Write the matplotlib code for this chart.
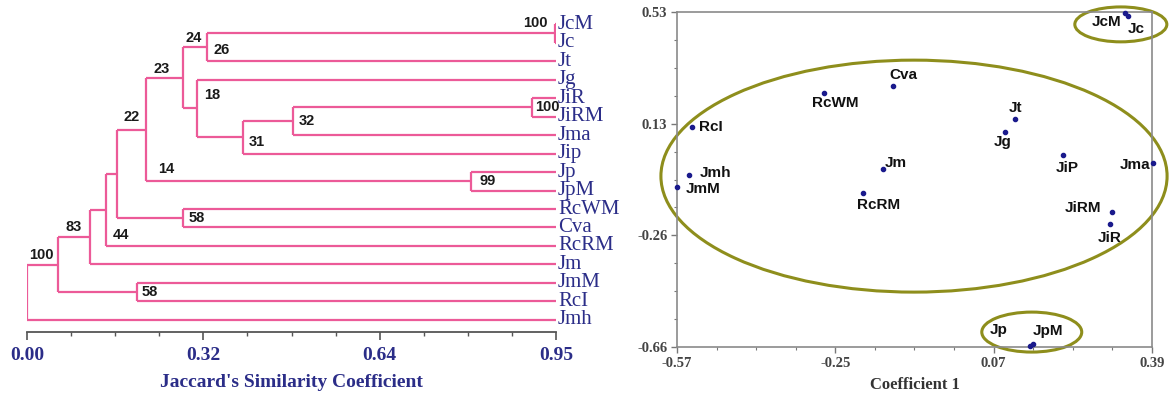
import numpy as np
import matplotlib
matplotlib.use("Agg")
import matplotlib.pyplot as plt
from matplotlib.patches import Ellipse

# ---------------- Dendrogram data ----------------
leaves = ["JcM", "Jc", "Jt", "Jg", "JiR", "JiRM", "Jma", "Jip", "Jp", "JpM",
          "RcWM", "Cva", "RcRM", "Jm", "JmM", "RcI", "Jmh"]
merge_names = ["A", "B", "C", "D", "E", "F", "G", "H", "I", "J", "K", "L", "M", "N", "O", "R"]
merge_left = ["JcM", "A", "JiR", "C", "D", "Jg", "B", "Jp", "G", "RcWM", "I", "K", "L", "JmM", "M", "O"]
merge_right = ["Jc", "Jt", "JiRM", "Jma", "Jip", "E", "F", "JpM", "H", "Cva", "J", "RcRM", "Jm", "RcI", "N", "Jmh"]
merge_height = [0.948, 0.323, 0.907, 0.478, 0.388, 0.305, 0.280, 0.797, 0.214,
                0.280, 0.162, 0.142, 0.113, 0.197, 0.056, 0.0]

boot_values = ["100", "26", "24", "23", "22", "14", "18", "32", "31", "100",
               "99", "58", "44", "83", "58", "100"]
boot_anchor = ["A", "B", "B*", "G*", "I*", "H*", "F", "D", "E", "C",
               "H", "J", "RcRM*", "M*", "N", "O*"]

dend_ticks = ["0.00", "0.32", "0.64", "0.95"]

# ---------------- PCoA data ----------------
pts_names = ["JcM", "Jc", "Cva", "RcWM", "RcI", "Jmh", "JmM", "Jm", "RcRM", "Jt",
             "Jg", "JiP", "Jma", "JiRM", "JiR", "Jp", "JpM"]
pts_x = [0.335, 0.341, -0.133, -0.273, -0.540, -0.546, -0.570, -0.154, -0.194, 0.113,
         0.093, 0.210, 0.392, 0.309, 0.305, 0.143, 0.150]
pts_y = [0.526, 0.516, 0.267, 0.242, 0.122, -0.049, -0.092, -0.028, -0.113, 0.150,
         0.104, 0.022, -0.006, -0.180, -0.223, -0.658, -0.650]
pc_xticks = ["-0.57", "-0.25", "0.07", "0.39"]
pc_yticks = ["0.53", "0.13", "-0.26", "-0.66"]

# groups (ellipses): center x, center y, width, height
grp_cx = [-0.091, 0.327, 0.147]
grp_cy = [-0.053, 0.486, -0.607]
grp_w = [1.023, 0.186, 0.202]
grp_h = [0.824, 0.124, 0.142]

# ---------------- Styling ----------------
PINK = "#EC5A98"
NAVY = "#2B2D88"
OLIVE = "#8E8E1C"
PX = 0.72  # points per pixel at dpi 100

fig = plt.figure(figsize=(11.74, 3.99), dpi=100)

# ---------- Left: dendrogram ----------
ax1 = fig.add_axes([27 / 1174, 1 - 332 / 399, 529 / 1174, 332 / 399])
ax1.set_xlim(0, 0.95)
ax1.set_ylim(16.65, -1.3)

pos = {}
for i, nm in enumerate(leaves):
    pos[nm] = (0.95, float(i))
parent_x = {}
for nm, l, r, h in zip(merge_names, merge_left, merge_right, merge_height):
    yl = pos[l][1]
    yr = pos[r][1]
    ax1.plot([h, h], [yl, yr], color=PINK, lw=1.6, solid_capstyle="butt")
    for c in (l, r):
        ax1.plot([h, pos[c][0]], [pos[c][1], pos[c][1]], color=PINK, lw=1.6,
                 solid_capstyle="butt")
        parent_x[c] = h
    pos[nm] = (h, (yl + yr) / 2)

for i, nm in enumerate(leaves):
    ax1.annotate(nm, (0.95, i), xytext=(2 * PX, 0), textcoords="offset points",
                 ha="left", va="center", fontsize=15, color=NAVY,
                 family="Liberation Serif", annotation_clip=False)

boot_off = {
    "A": (-20, 10), "B": (15, -3), "B*": (11, 9), "G*": (15, 9), "I*": (14, 13),
    "H*": (20, 12), "F": (15, 13), "D": (14, 0), "E": (14, -5), "C": (15, 0),
    "H": (17, 0), "J": (14, 0), "RcRM*": (15, 11), "M*": (15, 10), "N": (13, 0),
    "O*": (14, 10),
}
for txt, anc in zip(boot_values, boot_anchor):
    if anc.endswith("*"):
        nm = anc[:-1]
        ax_, ay_ = parent_x[nm], pos[nm][1]
    else:
        ax_, ay_ = pos[anc]
    dx, dy = boot_off[anc]
    ax1.annotate(txt, (ax_, ay_), xytext=(dx * PX, dy * PX), textcoords="offset points",
                 ha="center", va="center", fontsize=10.5, fontweight="bold",
                 color="#1a1a1a", family="Liberation Sans", annotation_clip=False)

for s in ["top", "right", "left"]:
    ax1.spines[s].set_visible(False)
ax1.spines["bottom"].set_color("#555555")
ax1.spines["bottom"].set_linewidth(1.3)
ax1.set_yticks([])
major = np.linspace(0, 0.95, 4)
ax1.set_xticks(major)
ax1.set_xticklabels(dend_ticks)
ax1.set_xticks(np.linspace(0, 0.95, 13), minor=True)
ax1.tick_params(axis="x", which="major", direction="out", length=6, width=1.2,
                color="#555555", pad=5)
ax1.tick_params(axis="x", which="minor", direction="out", length=3, width=1.0,
                color="#555555")
for lab in ax1.get_xticklabels():
    lab.set_fontsize(14)
    lab.set_fontweight("bold")
    lab.set_color(NAVY)
    lab.set_family("Liberation Serif")
ax1.set_xlabel("Jaccard's Similarity Coefficient", fontsize=14, fontweight="bold",
               color=NAVY, family="Liberation Serif", labelpad=7)

# ---------- Right: PCoA scatter ----------
ax2 = fig.add_axes([677 / 1174, 1 - 347 / 399, 475 / 1174, 335 / 399])
ax2.set_xlim(-0.57, 0.39)
ax2.set_ylim(-0.66, 0.53)
ax2.scatter(pts_x, pts_y, s=9, color="#1a1a8c", zorder=3, clip_on=False)

lab_off = {
    "JcM": (-3, -9, "right"), "Jc": (0, -13, "left"), "Cva": (10, 11, "center"),
    "RcWM": (11, -10, "center"), "RcI": (7, 0, "left"), "Jmh": (11, 2, "left"),
    "JmM": (9, -2, "left"), "Jm": (2, 6, "left"), "RcRM": (16, -12, "center"),
    "Jt": (1, 11, "center"), "Jg": (-2, -10, "center"), "JiP": (4, -13, "center"),
    "Jma": (-3, -2, "right"), "JiRM": (-11, 4, "right"), "JiR": (0, -14, "center"),
    "Jp": (-31, 16, "center"), "JpM": (15, 13, "center"),
}
for nm, x, y in zip(pts_names, pts_x, pts_y):
    dx, dy, ha = lab_off[nm]
    ax2.annotate(nm, (x, y), xytext=(dx * PX, dy * PX), textcoords="offset points",
                 ha=ha, va="center", fontsize=11, fontweight="bold", color="#111111",
                 family="Liberation Sans", annotation_clip=False)

for cx, cy, w, h in zip(grp_cx, grp_cy, grp_w, grp_h):
    e = Ellipse((cx, cy), w, h, fill=False, edgecolor=OLIVE, lw=2.2, clip_on=False,
                zorder=2)
    ax2.add_patch(e)

for s in ax2.spines.values():
    s.set_color("#8a8a8a")
    s.set_linewidth(1.2)
ax2.set_xticks(np.linspace(-0.57, 0.39, 4))
ax2.set_xticklabels(pc_xticks)
ax2.set_yticks(np.linspace(-0.66, 0.53, 4))
ax2.set_yticklabels(pc_yticks[::-1])
ax2.set_xticks(np.linspace(-0.57, 0.39, 13), minor=True)
ax2.set_yticks(np.linspace(-0.66, 0.53, 13), minor=True)
ax2.tick_params(which="major", direction="out", length=4, width=1.0, color="#777777",
                pad=3)
ax2.tick_params(which="minor", direction="out", length=2.5, width=0.8, color="#777777")
for lab in ax2.get_xticklabels() + ax2.get_yticklabels():
    lab.set_fontsize(10.5)
    lab.set_fontweight("bold")
    lab.set_color("#444444")
    lab.set_family("Liberation Serif")
ax2.set_xlabel("Coefficient 1", fontsize=12, fontweight="bold", color="#333333",
               family="Liberation Serif", labelpad=5)

fig.savefig("out.png", dpi=100)
